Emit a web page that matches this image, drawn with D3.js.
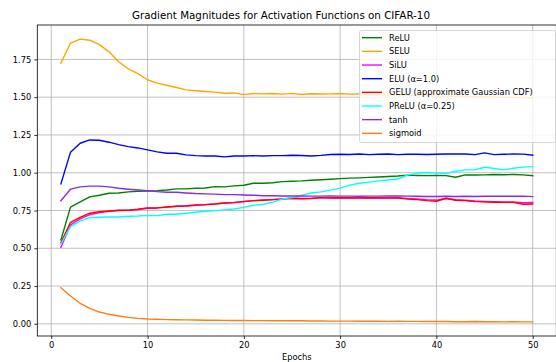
<!DOCTYPE html>
<html>
<head>
<meta charset="utf-8">
<script src="https://cdn.jsdelivr.net/npm/d3@7"></script>
<style>
  html, body { margin: 0; padding: 0; background: #fff; }
  svg { display: block; font-family: "DejaVu Sans", sans-serif; }
</style>
</head>
<body>
<svg id="chart" width="556" height="362"></svg>
<script>
// Training epochs
const epochs = d3.range(1, 51);

// Mean gradient magnitude per epoch, one array per activation
const relu = [0.555, 0.772, 0.807, 0.840, 0.851, 0.864, 0.866, 0.873, 0.877, 0.879,
  0.881, 0.886, 0.893, 0.893, 0.897, 0.899, 0.908, 0.906, 0.913, 0.917,
  0.930, 0.930, 0.934, 0.941, 0.944, 0.946, 0.950, 0.953, 0.957, 0.961,
  0.964, 0.966, 0.969, 0.972, 0.975, 0.978, 0.984, 0.982, 0.981, 0.982,
  0.981, 0.970, 0.986, 0.985, 0.986, 0.988, 0.987, 0.988, 0.986, 0.980];
const selu = [1.725, 1.858, 1.884, 1.877, 1.848, 1.800, 1.734, 1.687, 1.656, 1.615,
  1.593, 1.579, 1.564, 1.548, 1.542, 1.537, 1.533, 1.526, 1.528, 1.517,
  1.524, 1.522, 1.524, 1.520, 1.525, 1.518, 1.523, 1.521, 1.522, 1.524,
  1.520, 1.522, 1.518, 1.516, 1.514, 1.516, 1.512, 1.510, 1.511, 1.508,
  1.506, 1.507, 1.504, 1.502, 1.503, 1.500, 1.498, 1.499, 1.496, 1.495];
const silu = [0.507, 0.655, 0.695, 0.722, 0.736, 0.744, 0.750, 0.751, 0.757, 0.765,
  0.767, 0.772, 0.778, 0.781, 0.786, 0.789, 0.794, 0.800, 0.803, 0.810,
  0.815, 0.819, 0.822, 0.827, 0.831, 0.829, 0.830, 0.835, 0.834, 0.835,
  0.834, 0.834, 0.835, 0.834, 0.834, 0.835, 0.830, 0.827, 0.821, 0.819,
  0.829, 0.821, 0.818, 0.813, 0.810, 0.808, 0.807, 0.806, 0.801, 0.803];
const elu = [0.926, 1.136, 1.195, 1.217, 1.215, 1.202, 1.186, 1.173, 1.164, 1.151,
  1.138, 1.129, 1.129, 1.118, 1.113, 1.111, 1.111, 1.105, 1.111, 1.111,
  1.113, 1.111, 1.113, 1.113, 1.116, 1.114, 1.111, 1.115, 1.121, 1.122,
  1.121, 1.124, 1.120, 1.122, 1.124, 1.120, 1.122, 1.122, 1.121, 1.122,
  1.124, 1.124, 1.124, 1.120, 1.131, 1.120, 1.122, 1.124, 1.123, 1.116];
const gelu = [0.537, 0.672, 0.705, 0.732, 0.742, 0.747, 0.752, 0.752, 0.758, 0.767,
  0.767, 0.773, 0.778, 0.780, 0.785, 0.789, 0.793, 0.800, 0.802, 0.809,
  0.815, 0.818, 0.822, 0.826, 0.831, 0.828, 0.829, 0.835, 0.833, 0.834,
  0.833, 0.832, 0.834, 0.833, 0.832, 0.833, 0.825, 0.822, 0.815, 0.811,
  0.831, 0.818, 0.815, 0.809, 0.807, 0.805, 0.804, 0.804, 0.791, 0.793];
const prelu = [0.528, 0.643, 0.681, 0.703, 0.705, 0.707, 0.707, 0.712, 0.714, 0.718,
  0.716, 0.725, 0.725, 0.732, 0.738, 0.745, 0.749, 0.754, 0.760, 0.771,
  0.785, 0.791, 0.805, 0.826, 0.835, 0.852, 0.866, 0.873, 0.885, 0.898,
  0.918, 0.930, 0.938, 0.946, 0.952, 0.958, 0.985, 0.996, 1.001, 0.997,
  0.996, 1.010, 1.019, 1.020, 1.036, 1.028, 1.019, 1.030, 1.037, 1.040];
const tanh = [0.815, 0.891, 0.906, 0.911, 0.911, 0.906, 0.897, 0.891, 0.886, 0.881,
  0.875, 0.871, 0.871, 0.866, 0.862, 0.860, 0.858, 0.855, 0.855, 0.853,
  0.851, 0.848, 0.848, 0.846, 0.846, 0.846, 0.845, 0.845, 0.846, 0.845,
  0.845, 0.844, 0.845, 0.845, 0.846, 0.846, 0.845, 0.844, 0.843, 0.843,
  0.844, 0.843, 0.844, 0.843, 0.844, 0.844, 0.845, 0.844, 0.845, 0.842];
const sigmoid = [0.239, 0.184, 0.136, 0.102, 0.078, 0.063, 0.052, 0.043, 0.036, 0.032,
  0.030, 0.028, 0.027, 0.026, 0.025, 0.024, 0.024, 0.023, 0.022, 0.022,
  0.021, 0.021, 0.020, 0.020, 0.021, 0.020, 0.019, 0.019, 0.018, 0.018,
  0.018, 0.017, 0.017, 0.017, 0.016, 0.017, 0.016, 0.016, 0.015, 0.016,
  0.015, 0.014, 0.014, 0.015, 0.014, 0.014, 0.013, 0.014, 0.013, 0.013];

const seriesNames = ["ReLU", "SELU", "SiLU", "ELU (α=1.0)", "GELU (approximate Gaussian CDF)",
  "PReLU (α=0.25)", "tanh", "sigmoid"];
const seriesValues = [relu, selu, silu, elu, gelu, prelu, tanh, sigmoid];
const seriesColors = ["#008000", "#ffa500", "#ff00ff", "#0000ff", "#ff0000",
  "#00ffff", "#8a2be2", "#ff7f0e"];

const xTicks = [0, 10, 20, 30, 40, 50];
const yTicks = [0.00, 0.25, 0.50, 0.75, 1.00, 1.25, 1.50, 1.75];

const titleText = "Gradient Magnitudes for Activation Functions on CIFAR-10";
const xLabelText = "Epochs";

// ---- layout ----
const svg = d3.select("#chart");
const plot = { left: 37.3, top: 25, right: 556.3, bottom: 336 };

// 5% padding on both axes, like a default matplotlib axes
const pad = (lo, hi) => { const s = hi - lo; return [lo - 0.05 * s, hi + 0.05 * s]; };
const xExt = d3.extent(epochs);
const allVals = seriesValues.flat();
const yExt = [d3.min(allVals), d3.max(allVals)];

const x = d3.scaleLinear().domain(pad(xExt[0], xExt[1])).range([plot.left, plot.right]);
const y = d3.scaleLinear().domain(pad(yExt[0], yExt[1])).range([plot.bottom, plot.top]);

// grid
const grid = svg.append("g").attr("stroke", "#b0b0b0").attr("stroke-width", 0.8);
grid.selectAll("line.gx").data(xTicks).join("line")
  .attr("x1", d => x(d)).attr("x2", d => x(d))
  .attr("y1", plot.top).attr("y2", plot.bottom);
grid.selectAll("line.gy").data(yTicks).join("line")
  .attr("y1", d => y(d)).attr("y2", d => y(d))
  .attr("x1", plot.left).attr("x2", plot.right);

// series lines
const line = d3.line().x((d, i) => x(epochs[i])).y(d => y(d));
svg.append("defs").append("clipPath").attr("id", "clip")
  .append("rect").attr("x", plot.left).attr("y", plot.top)
  .attr("width", plot.right - plot.left).attr("height", plot.bottom - plot.top);
const lines = svg.append("g").attr("clip-path", "url(#clip)");
seriesValues.forEach((vals, k) => {
  lines.append("path").datum(vals)
    .attr("d", line)
    .attr("fill", "none")
    .attr("stroke", seriesColors[k])
    .attr("stroke-width", 1.4)
    .attr("stroke-linejoin", "round")
    .attr("stroke-linecap", "square");
});

// axes
const fmtY = d3.format(".2f");
const xAxis = d3.axisBottom(x).tickValues(xTicks).tickSize(3).tickPadding(3).tickFormat(d3.format("d"));
const yAxis = d3.axisLeft(y).tickValues(yTicks).tickSize(3).tickPadding(3).tickFormat(fmtY);

const gx = svg.append("g").attr("transform", `translate(0,${plot.bottom})`).call(xAxis);
const gy = svg.append("g").attr("transform", `translate(${plot.left},0)`).call(yAxis);
[gx, gy].forEach(g => {
  g.select(".domain").remove();
  g.selectAll(".tick line").attr("stroke", "#000").attr("stroke-width", 0.8);
  g.selectAll(".tick text").attr("fill", "#000")
    .style("font-family", "DejaVu Sans").style("font-size", "8.3px");
});

// spines
svg.append("rect")
  .attr("x", plot.left).attr("y", plot.top)
  .attr("width", plot.right - plot.left).attr("height", plot.bottom - plot.top)
  .attr("fill", "none").attr("stroke", "#000").attr("stroke-width", 0.8);

// title and axis label
svg.append("text")
  .attr("x", 281).attr("y", 19)
  .attr("text-anchor", "middle")
  .style("font-size", "10.3px").attr("fill", "#000")
  .text(titleText);
svg.append("text")
  .attr("x", (plot.left + plot.right) / 2).attr("y", 359.5)
  .attr("text-anchor", "middle")
  .style("font-size", "8.3px").attr("fill", "#000")
  .text(xLabelText);

// legend
const leg = { x: 359, y: 30, w: 196, h: 112, row: 13.66, first: 37.7 };
const lg = svg.append("g");
lg.append("rect")
  .attr("x", leg.x + 0.5).attr("y", leg.y + 0.5)
  .attr("width", leg.w).attr("height", leg.h)
  .attr("rx", 2).attr("ry", 2)
  .attr("fill", "#fff").attr("fill-opacity", 0.8)
  .attr("stroke", "#cccccc").attr("stroke-width", 0.8);
seriesNames.forEach((name, k) => {
  const cy = leg.first + k * leg.row;
  lg.append("line")
    .attr("x1", 362).attr("x2", 382)
    .attr("y1", cy).attr("y2", cy)
    .attr("stroke", seriesColors[k]).attr("stroke-width", 1.4);
  lg.append("text")
    .attr("x", 389).attr("y", cy)
    .attr("dy", "0.35em")
    .style("font-size", "8.3px").attr("fill", "#000")
    .text(name);
});
</script>
</body>
</html>
